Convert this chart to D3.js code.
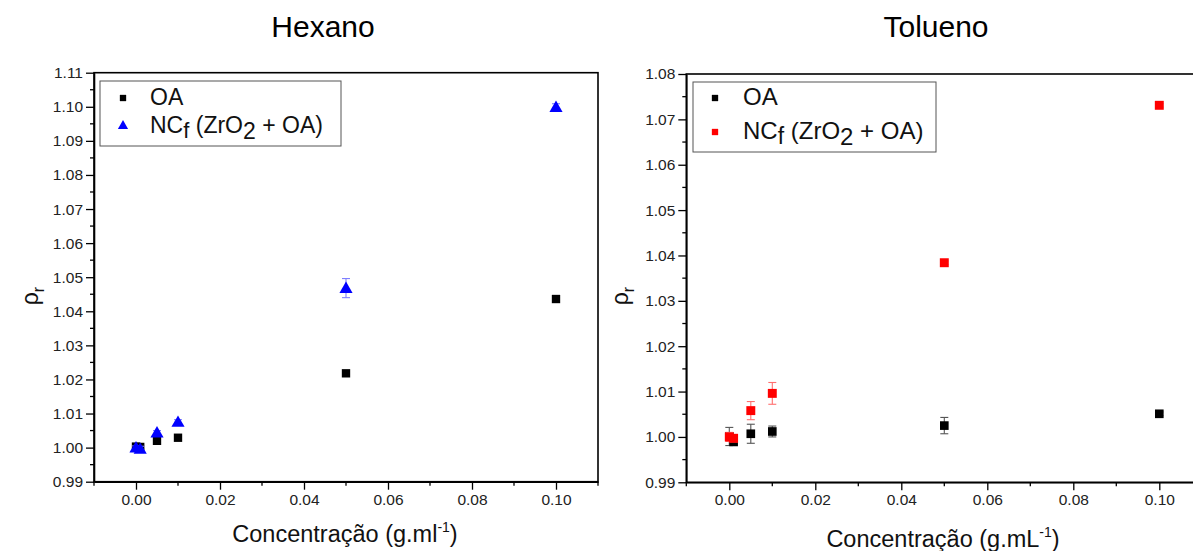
<!DOCTYPE html>
<html><head><meta charset="utf-8">
<script src="https://cdn.jsdelivr.net/npm/d3@7"></script>
<style>body{margin:0;background:#fff}svg{display:block}text{font-family:"Liberation Sans",Arial,sans-serif}</style>
</head><body>
<script>
// ---- data ----
const concX = [0, 0.001, 0.005, 0.01, 0.05, 0.1];
const xTicks = [0, 0.02, 0.04, 0.06, 0.08, 0.10];

const hexOA     = [1.0003, 1.0002, 1.0020, 1.0029, 1.0218, 1.0436];
const hexOAErr  = [0.0006, 0.0005, 0.0005, 0.0004, 0.0004, 0.0004];
const hexNC     = [1.0000, 0.9996, 1.0044, 1.0075, 1.0468, 1.0999];
const hexNCErr  = [0.0005, 0.0008, 0.0006, 0.0007, 0.0028, 0.0010];
const hexYTicks = [0.99,1.00,1.01,1.02,1.03,1.04,1.05,1.06,1.07,1.08,1.09,1.10,1.11];

const tolOA     = [1.0001, 0.9989, 1.0007, 1.0012, 1.0025, 1.0051];
const tolOAErr  = [0.0020, 0.0005, 0.0021, 0.0012, 0.0018, 0.0004];
const tolNC     = [1.0000, 0.9997, 1.0058, 1.0096, 1.0384, 1.0731];
const tolNCErr  = [0.0010, 0.0008, 0.0020, 0.0024, 0.0004, 0.0004];
const tolYTicks = [0.99,1.00,1.01,1.02,1.03,1.04,1.05,1.06,1.07,1.08];

const W = 1193, H = 551;
const svg = d3.select("body").append("svg").attr("width", W).attr("height", H);

function panel(cfg) {
  const g = svg.append("g");
  const x = d3.scaleLinear().domain([-0.01, 0.11]).range(cfg.xr);
  const y = d3.scaleLinear().domain(cfg.yd).range(cfg.yr);
  const [x0, x1] = cfg.xr, [yb, yt] = cfg.yr;

  // frame
  g.append("rect").attr("x", x0).attr("y", yt).attr("width", x1 - x0).attr("height", yb - yt)
    .attr("fill", "none").attr("stroke", "#000").attr("stroke-width", 1.6);

  // y axis
  const ya = g.append("g").attr("transform", `translate(${x0},0)`)
    .call(d3.axisLeft(y).tickValues(cfg.yTicks).tickFormat(d3.format(".2f")).tickSize(8).tickSizeOuter(0));
  ya.select(".domain").attr("stroke-width", 1.6);
  ya.selectAll(".tick line").attr("stroke-width", 1.3);
  ya.selectAll(".tick text").attr("font-size", 15.5).attr("fill", "#222").attr("x", -11);
  const yMinor = cfg.yTicks.slice(0, -1).map(v => v + 0.005);
  g.append("g").selectAll("line").data(yMinor).join("line")
    .attr("x1", x0 - 4).attr("x2", x0).attr("y1", d => y(d)).attr("y2", d => y(d))
    .attr("stroke", "#000").attr("stroke-width", 1.3);

  // x axis
  const xa = g.append("g").attr("transform", `translate(0,${yb})`)
    .call(d3.axisBottom(x).tickValues(xTicks).tickFormat(d3.format(".2f")).tickSize(8).tickSizeOuter(0));
  xa.select(".domain").attr("stroke-width", 1.6);
  xa.selectAll(".tick line").attr("stroke-width", 1.3);
  xa.selectAll(".tick text").attr("font-size", 15.5).attr("fill", "#222").attr("y", 12);
  const xMinor = [-0.01, 0.01, 0.03, 0.05, 0.07, 0.09, 0.11];
  g.append("g").selectAll("line").data(xMinor).join("line")
    .attr("x1", d => x(d)).attr("x2", d => x(d)).attr("y1", yb).attr("y2", yb + 4)
    .attr("stroke", "#000").attr("stroke-width", 1.3);

  // series
  cfg.series.forEach(s => {
    const pts = concX.map((c, i) => ({ c, v: s.vals[i], e: s.err[i] }));
    const eg = g.append("g").attr("stroke", s.errColor).attr("stroke-width", 1.1);
    pts.forEach(p => {
      const cx = x(p.c), ya1 = y(p.v + p.e), ya2 = y(p.v - p.e);
      eg.append("line").attr("x1", cx).attr("x2", cx).attr("y1", ya1).attr("y2", ya2);
      eg.append("line").attr("x1", cx - 4).attr("x2", cx + 4).attr("y1", ya1).attr("y2", ya1);
      eg.append("line").attr("x1", cx - 4).attr("x2", cx + 4).attr("y1", ya2).attr("y2", ya2);
    });
    const sym = d3.symbol().type(s.shape === "tri" ? d3.symbolTriangle : d3.symbolSquare).size(s.size);
    g.append("g").selectAll("path").data(pts).join("path")
      .attr("d", sym).attr("transform", d => `translate(${x(d.c)},${y(d.v) + (s.shape === "tri" ? 1 : 0)})`)
      .attr("fill", s.color);
  });

  // legend
  const L = cfg.legend;
  g.append("rect").attr("x", L.x).attr("y", L.y).attr("width", L.w).attr("height", L.h)
    .attr("fill", "#fff").attr("stroke", "#555").attr("stroke-width", 1);
  cfg.series.forEach((s, i) => {
    const ly = L.y + L.row0 + i * L.dy;
    const sym = d3.symbol().type(s.shape === "tri" ? d3.symbolTriangle : d3.symbolSquare).size(s.shape === "tri" ? 45 : 40);
    g.append("path").attr("d", sym).attr("transform", `translate(${L.x + L.mx},${ly - 7})`).attr("fill", s.color);
    const t = g.append("text").attr("x", L.x + L.tx).attr("y", ly).attr("font-size", L.fs).attr("fill", "#111");
    if (i === 0) t.text("OA");
    else {
      t.append("tspan").text("NC");
      t.append("tspan").attr("dy", 5).attr("font-size", L.fs - 1).text("f");
      t.append("tspan").attr("dy", -5).text(" (ZrO");
      t.append("tspan").attr("dy", 6).text("2");
      t.append("tspan").attr("dy", -6).text(" + OA)");
    }
  });

  // titles
  g.append("text").attr("x", cfg.titleX).attr("y", 37).attr("text-anchor", "middle")
    .attr("font-size", 30).attr("fill", "#000").text(cfg.title);
  const xt = g.append("text").attr("x", cfg.xlabX).attr("y", cfg.xlabY).attr("text-anchor", "middle")
    .attr("font-size", 23.5).attr("fill", "#111");
  xt.append("tspan").text("Concentração (g.m" + cfg.unitL);
  xt.append("tspan").attr("dy", -10).attr("font-size", 14).text("-1");
  xt.append("tspan").attr("dy", 10).text(")");
  const yt2 = g.append("text").attr("transform", `translate(${cfg.ylabX},${cfg.ylabY}) rotate(-90)`)
    .attr("text-anchor", "middle").attr("font-size", 23).attr("fill", "#111");
  yt2.append("tspan").text("ρ");
  yt2.append("tspan").attr("dy", 6).attr("font-size", 16).text("r");
}

panel({
  xr: [94, 598], yd: [0.99, 1.11], yr: [481.7, 72.7], yTicks: hexYTicks,
  title: "Hexano", titleX: 323, xlabX: 345, xlabY: 542, unitL: "l", ylabX: 38, ylabY: 296,
  legend: { x: 100, y: 81, w: 241, h: 65, row0: 24, dy: 28, mx: 23, tx: 50, fs: 23 },
  series: [
    { vals: hexOA, err: hexOAErr, color: "#000", errColor: "#777", shape: "sq", size: 70 },
    { vals: hexNC, err: hexNCErr, color: "#0000ff", errColor: "#7f7fff", shape: "tri", size: 75 }
  ]
});
panel({
  xr: [686.3, 1202.3], yd: [0.99, 1.08], yr: [482.3, 74], yTicks: tolYTicks,
  title: "Tolueno", titleX: 936, xlabX: 943, xlabY: 547, unitL: "L", ylabX: 628, ylabY: 296,
  legend: { x: 693, y: 82, w: 243, h: 70, row0: 23, dy: 34, mx: 22, tx: 50, fs: 24 },
  series: [
    { vals: tolOA, err: tolOAErr, color: "#000", errColor: "#555", shape: "sq", size: 75 },
    { vals: tolNC, err: tolNCErr, color: "#ff0000", errColor: "#ff6f6f", shape: "sq", size: 80 }
  ]
});
</script>
</body></html>
